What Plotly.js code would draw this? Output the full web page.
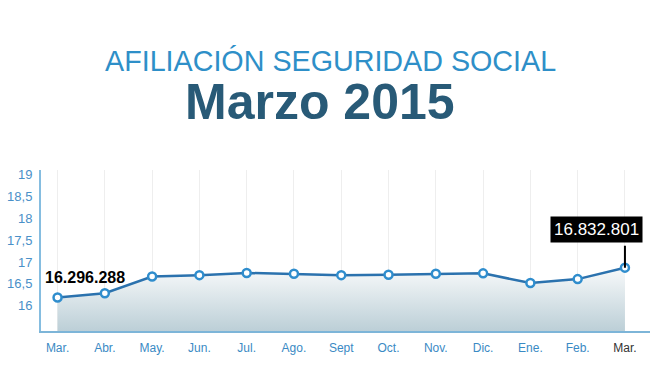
<!DOCTYPE html>
<html>
<head>
<meta charset="utf-8">
<script src="https://cdn.plot.ly/plotly-3.0.1.min.js"></script>
<style>html,body{margin:0;padding:0;background:#fff;}#chart{width:650px;height:390px;}</style>
</head>
<body>
<div id="chart"></div>
<script>
// Data (millions of affiliates)
var months = ["Mar.", "Abr.", "May.", "Jun.", "Jul.", "Ago.", "Sept", "Oct.", "Nov.", "Dic.", "Ene.", "Feb.", "Mar."];
var values = [16.19, 16.29, 16.67, 16.70, 16.75, 16.73, 16.70, 16.71, 16.73, 16.74, 16.52, 16.61, 16.87];
var yTickVals = [16, 16.5, 17, 17.5, 18, 18.5, 19];
var yTickText = ["16", "16,5", "17", "17,5", "18", "18,5", "19"];
var firstLabel = "16.296.288";
var lastLabel = "16.832.801";
var titleTop = "AFILIACIÓN SEGURIDAD SOCIAL";
var titleMain = "Marzo 2015";

var idx = months.map(function(_, i){ return i; });
var tickText = months.map(function(m, i){
  return i === months.length - 1 ? '<span style="color:#333333">' + m + '</span>' : m;
});

var narrow = "Liberation Sans Narrow, Arial Narrow, Liberation Sans, Arial, sans-serif";

var trace = {
  x: idx, y: values, type: 'scatter', mode: 'lines+markers',
  fill: 'tozeroy',
  fillgradient: {type: 'vertical', start: 15.43, stop: 16.85,
    colorscale: [[0, '#bccfd7'], [1, '#f7f9fa']]},
  line: {color: '#2b72ae', width: 2.5},
  marker: {size: 8, color: '#ffffff', line: {color: '#2f8dcd', width: 2.5}},
  hoverinfo: 'skip'
};

var last = values.length - 1;
var layout = {
  width: 650, height: 390,
  margin: {l: 41, r: 0, t: 170, b: 59},
  paper_bgcolor: '#ffffff', plot_bgcolor: '#ffffff',
  showlegend: false,
  xaxis: {
    range: [-0.35, 12.53], tickmode: 'array', tickvals: idx, ticktext: tickText,
    showgrid: true, gridcolor: '#eeeeee', gridwidth: 1, zeroline: false,
    showline: true, linecolor: '#7db5d8', linewidth: 2,
    ticks: '', ticklabelstandoff: 5,
    tickfont: {family: narrow, size: 12, color: '#3a8ac4'},
    fixedrange: true
  },
  yaxis: {
    range: [15.43, 19.09], tickmode: 'array', tickvals: yTickVals, ticktext: yTickText,
    showgrid: false, zeroline: false,
    showline: true, linecolor: '#85bde0', linewidth: 2,
    ticks: '', ticklabelstandoff: 4,
    tickfont: {family: narrow, size: 13, color: '#4a90c8'},
    fixedrange: true
  },
  annotations: [
    {xref: 'paper', yref: 'paper', x: 0.475, y: 1.6745, xanchor: 'center', yanchor: 'middle',
     text: titleTop, showarrow: false,
     font: {family: 'Liberation Sans, Arial, sans-serif', size: 28.7, color: '#2e8fc8'}},
    {xref: 'paper', yref: 'paper', x: 0.458, y: 1.42, xanchor: 'center', yanchor: 'middle',
     text: '<b>' + titleMain + '</b>', showarrow: false,
     font: {family: 'Liberation Sans, Arial, sans-serif', size: 50, color: '#285a77'}},
    {x: 0, y: values[0], xref: 'x', yref: 'y', text: '<b>' + firstLabel + '</b>', showarrow: false,
     xanchor: 'center', yanchor: 'middle', xshift: 27, yshift: 20,
     font: {family: 'Liberation Sans, Arial, sans-serif', size: 16, color: '#000000'}},
    {x: last, y: values[last], xref: 'x', yref: 'y', text: ' ', showarrow: true,
     ax: 0, ay: -25, arrowhead: 0, arrowwidth: 2, arrowcolor: '#000000',
     font: {size: 2}},
    {x: last, y: values[last], xref: 'x', yref: 'y', text: lastLabel, showarrow: false,
     xanchor: 'center', yanchor: 'middle', xshift: -28, yshift: 38,
     bgcolor: '#000000', borderpad: 3,
     font: {family: 'Liberation Sans, Arial, sans-serif', size: 17, color: '#ffffff'}}
  ]
};

Plotly.newPlot('chart', [trace], layout, {displayModeBar: false, staticPlot: true});
</script>
</body>
</html>
